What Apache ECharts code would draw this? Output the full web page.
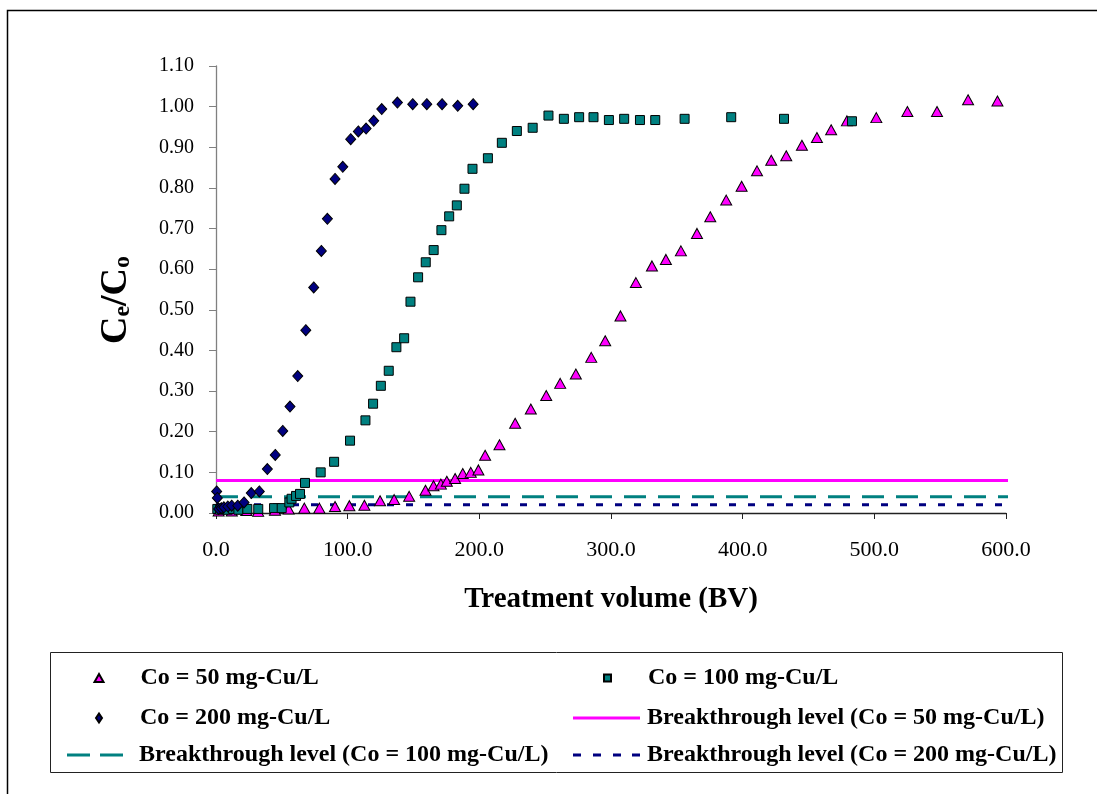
<!DOCTYPE html>
<html>
<head>
<meta charset="utf-8">
<script src="https://cdn.jsdelivr.net/npm/echarts@6/dist/echarts.min.js"></script>
<style>
  html, body { margin: 0; padding: 0; background: #fff; }
  #chart { width: 1097px; height: 794px; }
</style>
</head>
<body>
<div id="chart"></div>
<script>
// Breakthrough curves: treatment volume (BV) vs Ce/Co for three feed concentrations
var vol50 = [2, 12, 23, 32, 44.8, 55.2, 67.1, 78.5, 90.4, 101.3, 112.7, 124.6, 135.3, 146.7, 159.1, 165.2, 170.8, 175.3, 181.6, 187.4, 193.5, 199.3, 204.4, 215.3, 227.2, 239.1, 250.8, 261.4, 273.3, 285, 295.6, 307.2, 318.9, 331.1, 341.7, 353.1, 365.3, 375.4, 387.5, 399.2, 410.9, 421.7, 433.1, 445, 456.4, 467.2, 479.2, 501.5, 525.1, 547.6, 571.2, 593.5];
var ratio50 = [0.005, 0.005, 0.006, 0.004, 0.007, 0.010, 0.012, 0.012, 0.016, 0.018, 0.019, 0.030, 0.033, 0.041, 0.056, 0.067, 0.071, 0.078, 0.085, 0.097, 0.100, 0.106, 0.142, 0.168, 0.221, 0.256, 0.289, 0.319, 0.342, 0.383, 0.424, 0.485, 0.567, 0.608, 0.624, 0.645, 0.688, 0.729, 0.770, 0.804, 0.842, 0.868, 0.879, 0.905, 0.924, 0.943, 0.965, 0.973, 0.988, 0.988, 1.017, 1.014];

var vol100 = [1, 3, 6, 9, 13, 17, 23.8, 32.1, 44.1, 49.9, 55.7, 57.4, 60.8, 63.8, 67.6, 79.5, 89.7, 101.8, 113.5, 119.3, 125.2, 131.2, 137, 142.9, 147.7, 153.5, 159.3, 165.3, 171.2, 177.1, 182.9, 188.7, 194.8, 206.5, 217.1, 228.5, 240.5, 252.5, 264.2, 275.8, 286.7, 298.4, 310, 322, 333.6, 355.9, 391.3, 431.4, 483];
var ratio100 = [0.010, 0.008, 0.010, 0.008, 0.010, 0.008, 0.010, 0.010, 0.012, 0.012, 0.026, 0.035, 0.042, 0.047, 0.074, 0.100, 0.126, 0.178, 0.228, 0.269, 0.313, 0.350, 0.408, 0.430, 0.520, 0.580, 0.617, 0.647, 0.696, 0.730, 0.757, 0.798, 0.847, 0.873, 0.911, 0.940, 0.948, 0.978, 0.970, 0.974, 0.974, 0.967, 0.970, 0.967, 0.967, 0.970, 0.974, 0.970, 0.964];

var vol200 = [0.5, 1, 2, 4, 6, 9, 11.9, 16.5, 21.3, 26.8, 32.9, 39, 45, 50.7, 56.2, 62.1, 68.2, 74.2, 80, 84.6, 90.4, 96.3, 102.3, 108.1, 114, 119.8, 125.9, 137.8, 149.4, 160.1, 171.7, 183.6, 195.3];
var ratio200 = [0.053, 0.037, 0.010, 0.012, 0.014, 0.016, 0.018, 0.018, 0.026, 0.049, 0.053, 0.108, 0.143, 0.202, 0.262, 0.337, 0.450, 0.555, 0.645, 0.724, 0.822, 0.852, 0.920, 0.939, 0.946, 0.965, 0.994, 1.010, 1.006, 1.006, 1.006, 1.002, 1.006];

// Breakthrough levels drawn across the whole volume range
var levelRange = [0, 604];
var level50 = 0.08;
var level100 = 0.04;
var level200 = 0.02;

var names = [
  'Co = 50 mg-Cu/L',
  'Co = 100 mg-Cu/L',
  'Co = 200 mg-Cu/L',
  'Breakthrough level (Co = 50 mg-Cu/L)',
  'Breakthrough level (Co = 100 mg-Cu/L)',
  'Breakthrough level (Co = 200 mg-Cu/L)'
];

var xTicks = { min: 0, max: 600, interval: 100 };
var yTicks = { min: 0, max: 1.1, interval: 0.1 };

var MAGENTA = '#FF00FF', TEAL = '#008080', NAVY = '#000080';

function pairs(xs, ys) {
  return xs.map(function (x, i) { return [x, ys[i]]; });
}
function flat(y) {
  return levelRange.map(function (x) { return [x, y]; });
}

var FONT = "'Times New Roman', 'Liberation Serif', serif";
var chart = echarts.init(document.getElementById('chart'), null, { renderer: 'canvas' });

// one legend block per entry, laid out in two columns and three rows
function legendEntry(name, left, rowY, w, h, gapLeft, icon, itemStyle) {
  var entry = { name: name };
  if (icon) entry.icon = icon;
  if (itemStyle) entry.itemStyle = itemStyle;
  return {
    orient: 'horizontal', left: left, top: rowY - 11, padding: 0,
    itemWidth: w, itemHeight: h,
    selectedMode: false,
    textStyle: {
      fontFamily: FONT, fontWeight: 'bold', fontSize: 24, color: '#000',
      padding: [0, 0, 0, gapLeft]
    },
    data: [entry]
  };
}

var solidIcon = 'path://M0,0H67V3H0Z';
var dashIcon = 'path://M0,0H23V3H0Z M33,0H56V3H33Z';
var dotIcon = 'path://M0,0H8V3H0Z M20,0H28V3H20Z M40,0H48V3H40Z M59,0H67V3H59Z';

chart.setOption({
  animation: false,
  backgroundColor: '#fff',
  grid: { left: 216, top: 66, width: 790, height: 447, containLabel: false },
  xAxis: {
    type: 'value',
    min: xTicks.min, max: xTicks.max, interval: xTicks.interval,
    name: 'Treatment volume (BV)',
    nameLocation: 'middle',
    nameGap: 72,
    nameTextStyle: { fontFamily: FONT, fontWeight: 'bold', fontSize: 29, color: '#000' },
    axisLine: { show: true, onZero: false, lineStyle: { color: '#222', width: 1.3 } },
    axisTick: { show: true, inside: false, length: 6, lineStyle: { color: '#222' } },
    axisLabel: {
      margin: 26, fontFamily: FONT, fontSize: 22, color: '#000',
      formatter: function (v) { return v.toFixed(1); }
    },
    splitLine: { show: false }
  },
  yAxis: {
    type: 'value',
    min: yTicks.min, max: yTicks.max, interval: yTicks.interval,
    axisLine: { show: true, lineStyle: { color: '#808080', width: 1.3 } },
    axisTick: { show: true, inside: false, length: 7, lineStyle: { color: '#808080' } },
    axisLabel: {
      margin: 22, fontFamily: FONT, fontSize: 20, color: '#000',
      formatter: function (v) { return v.toFixed(2); }
    },
    splitLine: { show: false }
  },
  legend: [
    legendEntry(names[0], 93.5, 677, 9, 8, 32),
    legendEntry(names[1], 603, 677, 7, 7, 32),
    legendEntry(names[2], 95, 717, 6, 9, 33),
    legendEntry(names[3], 573, 717, 67, 3, 2, solidIcon, { color: MAGENTA, borderWidth: 0 }),
    legendEntry(names[4], 67, 754, 56, 3, 11, dashIcon, { color: TEAL, borderWidth: 0 }),
    legendEntry(names[5], 573, 754, 67, 3, 2, dotIcon, { color: NAVY, borderWidth: 0 })
  ],
  graphic: [
    {
      type: 'rect', z: -10, silent: true,
      shape: { x: 7.5, y: 10.5, width: 1200, height: 1000 },
      style: { fill: 'none', stroke: '#000', lineWidth: 1.5 }
    },
    {
      type: 'rect', z: -10, silent: true,
      shape: { x: 50.5, y: 652.5, width: 1012, height: 120 },
      style: { fill: '#fff', stroke: '#222', lineWidth: 1 }
    },
    {
      type: 'text', silent: true,
      x: 113, y: 300, rotation: Math.PI / 2,
      style: {
        text: '{m|C}{s|e}{m|/C}{s|o}',
        align: 'center', verticalAlign: 'middle',
        fill: '#000',
        rich: {
          m: { fontFamily: FONT, fontWeight: 'bold', fontSize: 38, lineHeight: 44, verticalAlign: 'bottom' },
          s: { fontFamily: FONT, fontWeight: 'bold', fontSize: 24, lineHeight: 44, verticalAlign: 'bottom', padding: [15, 0, 0, 0] }
        }
      }
    }
  ],
  series: [
    {
      name: names[3], type: 'line', data: flat(level50), symbol: 'none', z: 1, clip: false,
      lineStyle: { color: MAGENTA, width: 3, type: 'solid' },
      itemStyle: { color: MAGENTA }
    },
    {
      name: names[4], type: 'line', data: flat(level100), symbol: 'none', z: 1, clip: false,
      lineStyle: { color: TEAL, width: 3, type: [22, 12] },
      itemStyle: { color: TEAL }
    },
    {
      name: names[5], type: 'line', data: flat(level200), symbol: 'none', z: 1, clip: false,
      lineStyle: { color: NAVY, width: 3, type: [7, 12] },
      itemStyle: { color: NAVY }
    },
    {
      name: names[0], type: 'scatter', data: pairs(vol50, ratio50), z: 3,
      symbol: 'triangle', symbolSize: [11, 10],
      itemStyle: { color: MAGENTA, borderColor: '#000', borderWidth: 1, opacity: 1 }
    },
    {
      name: names[1], type: 'scatter', data: pairs(vol100, ratio100), z: 4,
      symbol: 'rect', symbolSize: 9,
      itemStyle: { color: TEAL, borderColor: '#000', borderWidth: 1, opacity: 1 }
    },
    {
      name: names[2], type: 'scatter', data: pairs(vol200, ratio200), z: 5,
      symbol: 'diamond', symbolSize: [10, 11],
      itemStyle: { color: NAVY, borderColor: '#000', borderWidth: 1, opacity: 1 }
    }
  ]
});
</script>
</body>
</html>
